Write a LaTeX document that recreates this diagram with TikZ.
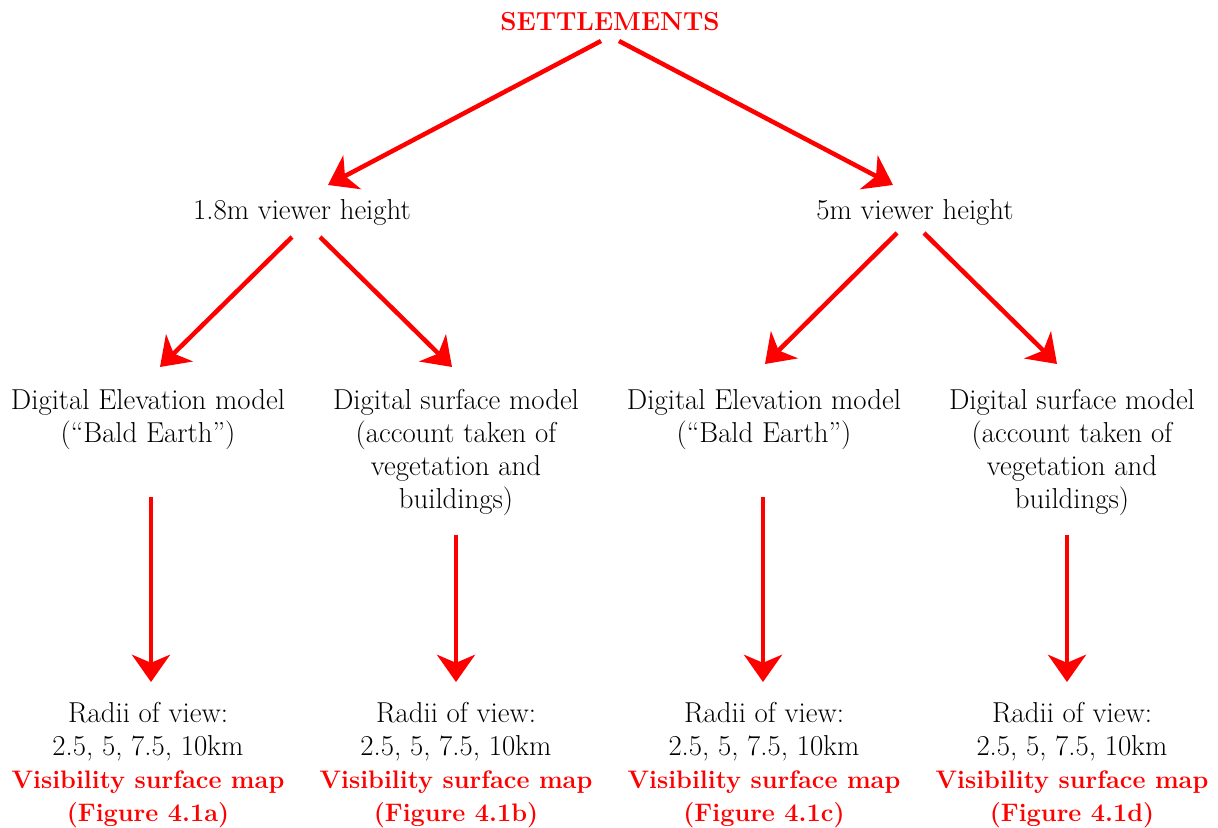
\documentclass[tikz,border=0pt]{standalone}
\usepackage{tikz}
\usetikzlibrary{arrows.meta,positioning,calc}
\tikzset{
    title/.style={
        inner sep=0pt,
        text=red,
        font=\fontsize{18.5}{23.4}\selectfont\bfseries,
    },
    level/.style={
        inner sep=0pt,
        align=center,
        font=\fontsize{20.5}{23.4}\selectfont,
    },
    model/.style={
        level,
        anchor=north,
    },
    every edge/.style={
        draw=red,
        -{Stealth[length=0.68cm,width=0.95cm,inset=0.2cm]},
        line width=3.2pt,
    },
}
\newcommand{\mapref}[1]{\textcolor{red}{\fontsize{18}{23.4}\selectfont\bfseries #1}}

\begin{document}
\begin{tikzpicture}[x=0.025cm,y=-0.025cm]
    \useasboundingbox (0,0) rectangle (1218,828);

    % Nodes and position definitions
    \node [title] (S) at (610,22) {SETTLEMENTS};

    \node [level] (V1) at (302,212) {1.8m viewer height};
    \node [level] (V2) at (915,212) {5m viewer height};

    \node [model] (D1) at (148,389) {Digital Elevation model\\(``Bald Earth'')};
    \node [model] (D2) at (456,389) {Digital surface model\\(account taken of\\vegetation and\\buildings)};
    \node [model] (D3) at (764,389) {Digital Elevation model\\(``Bald Earth'')};
    \node [model] (D4) at (1072,389) {Digital surface model\\(account taken of\\vegetation and\\buildings)};

    \node [model] (M1) at (148,702) {Radii of view:\\2.5, 5, 7.5, 10km\\\mapref{Visibility surface map}\\\mapref{(Figure 4.1a)}};
    \node [model] (M2) at (456,702) {Radii of view:\\2.5, 5, 7.5, 10km\\\mapref{Visibility surface map}\\\mapref{(Figure 4.1b)}};
    \node [model] (M3) at (764,702) {Radii of view:\\2.5, 5, 7.5, 10km\\\mapref{Visibility surface map}\\\mapref{(Figure 4.1c)}};
    \node [model] (M4) at (1072,702) {Radii of view:\\2.5, 5, 7.5, 10km\\\mapref{Visibility surface map}\\\mapref{(Figure 4.1d)}};

    % Vertex definitions
    \path ($(S)+(-9,19)$) edge ($(V1)+(26,-27)$);
    \path ($(S)+(9,19)$) edge ($(V2)+(-22,-27)$);

    \path ($(V1)+(-10,25)$) edge ($(D1.north)+(12,-22)$);
    \path ($(V1)+(18,25)$) edge ($(D2.north)+(-4,-22)$);
    \path ($(V2)+(-18,21)$) edge ($(D3.north)+(1,-25)$);
    \path ($(V2)+(9,21)$) edge ($(D4.north)+(-15,-25)$);

    \path ($(D1.north)+(3,108)$) edge ($(M1.north)+(3,-20)$);
    \path ($(D2.north)+(0,146)$) edge ($(M2.north)+(0,-20)$);
    \path ($(D3.north)+(-1,108)$) edge ($(M3.north)+(-1,-20)$);
    \path ($(D4.north)+(-5,146)$) edge ($(M4.north)+(-5,-20)$);
\end{tikzpicture}
\end{document}
